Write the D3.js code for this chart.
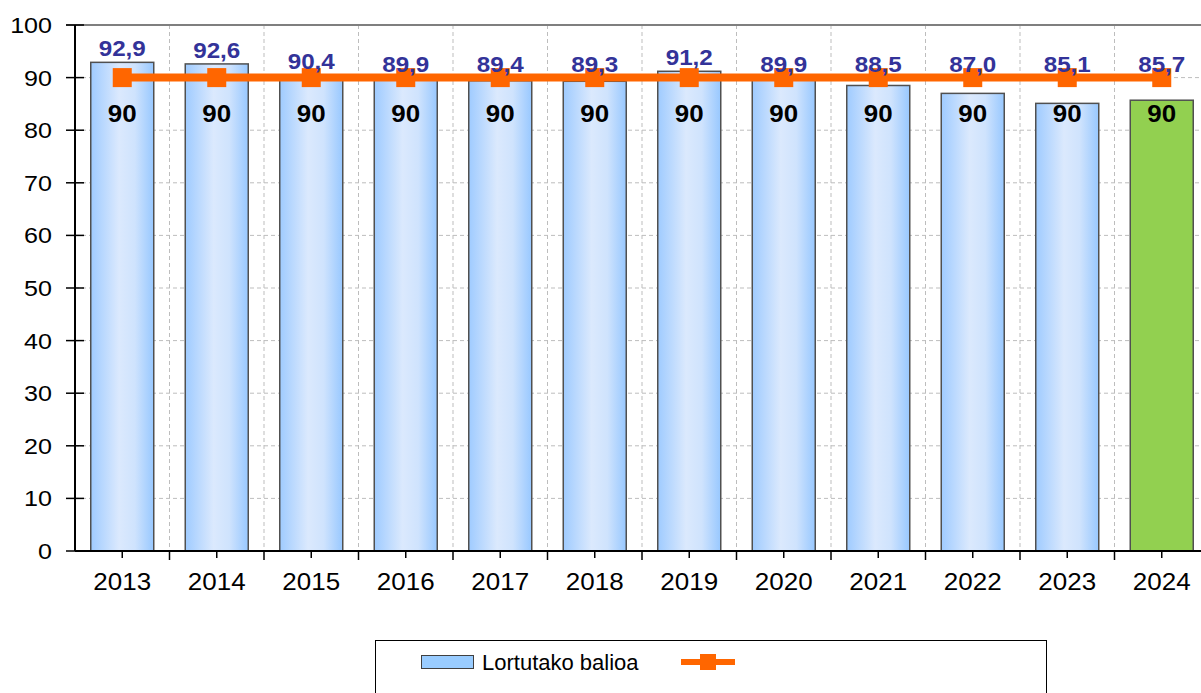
<!DOCTYPE html>
<html>
<head>
<meta charset="utf-8">
<script src="https://cdn.jsdelivr.net/npm/d3@7"></script>
<style>
  html, body { margin: 0; padding: 0; background: #fff; }
  svg { display: block; font-family: "Liberation Sans", Arial, sans-serif; }
</style>
</head>
<body>
<svg id="chart" width="1201" height="693"></svg>
<script>
// Years, achieved values and the target line
const years = ["2013","2014","2015","2016","2017","2018","2019","2020","2021","2022","2023","2024"];
const achieved = [92.9, 92.6, 90.4, 89.9, 89.4, 89.3, 91.2, 89.9, 88.5, 87.0, 85.1, 85.7];
const target = [90, 90, 90, 90, 90, 90, 90, 90, 90, 90, 90, 90];
const yTicks = [0, 10, 20, 30, 40, 50, 60, 70, 80, 90, 100];
const legendLabel = "Lortutako balioa";

const svg = d3.select("#chart");
const plot = { left: 75, top: 25, bottom: 551, right: 1209 };

const x = d3.scaleBand()
  .domain(years)
  .range([plot.left, plot.right])
  .paddingInner(1 / 3)
  .paddingOuter(1 / 6);
const step = x.step();
const gap = (step - x.bandwidth()) / 2;
const y = d3.scaleLinear().domain([0, 100]).range([plot.bottom, plot.top]);

const fmt = v => d3.format(".1f")(v).replace(".", ",");

// Text drawn slightly wider than the font's natural width
function wideText(sel, stretch) {
  return sel.attr("transform", function () {
    const tx = +this.getAttribute("x"), ty = +this.getAttribute("y");
    return `translate(${tx},${ty}) scale(${stretch},1) translate(${-tx},${-ty})`;
  });
}

// Gradient for the regular bars
const defs = svg.append("defs");
const grad = defs.append("linearGradient").attr("id", "barGrad")
  .attr("x1", "0%").attr("x2", "100%").attr("y1", "0%").attr("y2", "0%");
grad.append("stop").attr("offset", "0%").attr("stop-color", "#9fcbff");
grad.append("stop").attr("offset", "45%").attr("stop-color", "#dbe9fd");
grad.append("stop").attr("offset", "70%").attr("stop-color", "#cfe3fd");
grad.append("stop").attr("offset", "100%").attr("stop-color", "#98c8ff");

// Horizontal grid lines
svg.append("g").selectAll("line")
  .data(yTicks.filter(t => t > 0 && t < 100))
  .join("line")
  .attr("x1", plot.left).attr("x2", 1201)
  .attr("y1", d => y(d)).attr("y2", d => y(d))
  .attr("stroke", "#bdbdbd").attr("stroke-width", 1)
  .attr("stroke-dasharray", "4,3");

// Vertical grid lines at the category boundaries
svg.append("g").selectAll("line")
  .data(years.slice(1))
  .join("line")
  .attr("x1", d => x(d) - gap)
  .attr("x2", d => x(d) - gap)
  .attr("y1", plot.top).attr("y2", plot.bottom)
  .attr("stroke", "#bdbdbd").attr("stroke-width", 1)
  .attr("stroke-dasharray", "4,3");

// Top frame line at 100
svg.append("line")
  .attr("x1", 66).attr("x2", 1201)
  .attr("y1", y(100)).attr("y2", y(100))
  .attr("stroke", "#7f7f7f").attr("stroke-width", 2);

// Bars
const last = years.length - 1;
svg.append("g").selectAll("rect")
  .data(achieved)
  .join("rect")
  .attr("x", (d, i) => x(years[i]))
  .attr("y", d => y(d))
  .attr("width", x.bandwidth())
  .attr("height", d => y(0) - y(d))
  .attr("fill", (d, i) => i === last ? "#92d050" : "url(#barGrad)")
  .attr("stroke", "#505050")
  .attr("stroke-width", 1.5);

// Axes
const yAxis = svg.append("g").attr("transform", `translate(${plot.left},0)`);
yAxis.append("line")
  .attr("x1", 0).attr("x2", 0).attr("y1", plot.top).attr("y2", plot.bottom)
  .attr("stroke", "#000").attr("stroke-width", 2);
yAxis.selectAll("line.tick")
  .data(yTicks).join("line").attr("class", "tick")
  .attr("x1", -9).attr("x2", 9)
  .attr("y1", d => y(d)).attr("y2", d => y(d))
  .attr("stroke", "#000").attr("stroke-width", 1.5);
yAxis.selectAll("text")
  .data(yTicks).join("text")
  .attr("x", -23).attr("y", d => y(d))
  .attr("dy", "0.36em")
  .attr("text-anchor", "end")
  .attr("font-size", 22).attr("fill", "#000")
  .text(d => d)
  .call(wideText, 1.14);

const xAxis = svg.append("g");
xAxis.append("line")
  .attr("x1", plot.left).attr("x2", 1201)
  .attr("y1", plot.bottom).attr("y2", plot.bottom)
  .attr("stroke", "#000").attr("stroke-width", 2);
xAxis.selectAll("line.center")
  .data(years).join("line").attr("class", "center")
  .attr("x1", d => x(d) + x.bandwidth() / 2).attr("x2", d => x(d) + x.bandwidth() / 2)
  .attr("y1", plot.bottom).attr("y2", plot.bottom + 7)
  .attr("stroke", "#000").attr("stroke-width", 1.5);
xAxis.selectAll("line.bound")
  .data(years.slice(1)).join("line").attr("class", "bound")
  .attr("x1", d => x(d) - gap).attr("x2", d => x(d) - gap)
  .attr("y1", plot.bottom).attr("y2", plot.bottom + 9)
  .attr("stroke", "#000").attr("stroke-width", 1.5);
xAxis.selectAll("text")
  .data(years).join("text")
  .attr("x", d => x(d) + x.bandwidth() / 2)
  .attr("y", 590)
  .attr("text-anchor", "middle")
  .attr("font-size", 23).attr("fill", "#000")
  .text(d => d)
  .call(wideText, 1.13);

// Target line with square markers
const cx = i => x(years[i]) + x.bandwidth() / 2;
const line = d3.line().x((d, i) => cx(i)).y(d => y(d));
svg.append("path")
  .datum(target)
  .attr("d", line)
  .attr("fill", "none")
  .attr("stroke", "#ff6600")
  .attr("stroke-width", 8);
svg.append("g").selectAll("rect")
  .data(target).join("rect")
  .attr("x", (d, i) => cx(i) - 9.5)
  .attr("y", d => y(d) - 9.5)
  .attr("width", 19).attr("height", 19)
  .attr("fill", "#ff6600");

// Target labels inside the bars
svg.append("g").selectAll("text")
  .data(target).join("text")
  .attr("x", (d, i) => cx(i))
  .attr("y", d => y(d) + 36)
  .attr("dy", "0.36em")
  .attr("text-anchor", "middle")
  .attr("font-size", 24).attr("font-weight", "bold").attr("fill", "#000")
  .text(d => d)
  .call(wideText, 1.08);

// Achieved value labels
svg.append("g").selectAll("text")
  .data(achieved).join("text")
  .attr("x", (d, i) => cx(i))
  .attr("y", (d, i) => y(Math.max(d, target[i])) - 14)
  .attr("dy", "0.36em")
  .attr("text-anchor", "middle")
  .attr("font-size", 22).attr("font-weight", "bold").attr("fill", "#333399")
  .text(d => fmt(d))
  .call(wideText, 1.1);

// Legend
const lg = svg.append("g");
lg.append("rect")
  .attr("x", 375.5).attr("y", 640.5).attr("width", 671).attr("height", 60)
  .attr("fill", "#fff").attr("stroke", "#000").attr("stroke-width", 1);
lg.append("rect")
  .attr("x", 421.5).attr("y", 655.5).attr("width", 52).attr("height", 13)
  .attr("fill", "#99ccff").attr("stroke", "#404040").attr("stroke-width", 1);
lg.append("text")
  .attr("x", 482).attr("y", 662).attr("dy", "0.36em")
  .attr("font-size", 22).attr("fill", "#000")
  .text(legendLabel);
lg.append("line")
  .attr("x1", 681).attr("x2", 735).attr("y1", 662).attr("y2", 662)
  .attr("stroke", "#ff6600").attr("stroke-width", 6);
lg.append("rect")
  .attr("x", 700).attr("y", 654).attr("width", 16).attr("height", 16)
  .attr("fill", "#ff6600");
</script>
</body>
</html>
